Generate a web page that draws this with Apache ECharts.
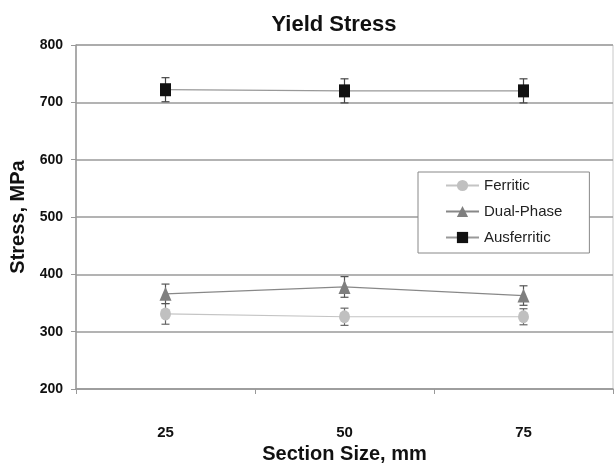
<!DOCTYPE html>
<html>
<head>
<meta charset="utf-8">
<script src="https://cdn.jsdelivr.net/npm/echarts@6/dist/echarts.min.js"></script>
<style>html,body{margin:0;padding:0;background:#fff;}#c{width:616px;height:472px;}</style>
</head>
<body>
<div id="c"></div>
<script>
const categories = ['25', '50', '75'];
const yTicks = [200, 300, 400, 500, 600, 700, 800];
const ferritic = [331, 326, 326];
const ferriticErr = [18, 15, 14];
const dualPhase = [366, 378, 363];
const dualPhaseErr = [17, 18, 17];
const ausferritic = [722, 720, 720];
const ausferriticErr = [21, 21, 21];

const sans = "'Liberation Sans', Arial, sans-serif";

function errData(vals, errs) {
  return vals.map((v, i) => [i, v - errs[i], v + errs[i]]);
}
function errSeries(vals, errs, color) {
  return {
    type: 'custom',
    z: 1,
    silent: true,
    encode: { x: 0, y: [1, 2] },
    data: errData(vals, errs),
    renderItem: function (params, api) {
      const lo = api.coord([api.value(0), api.value(1)]);
      const hi = api.coord([api.value(0), api.value(2)]);
      const hw = 4;
      const st = { stroke: color, lineWidth: 1.2 };
      return {
        type: 'group',
        children: [
          { type: 'line', shape: { x1: lo[0], y1: lo[1], x2: hi[0], y2: hi[1] }, style: st },
          { type: 'line', shape: { x1: lo[0] - hw, y1: lo[1], x2: lo[0] + hw, y2: lo[1] }, style: st },
          { type: 'line', shape: { x1: hi[0] - hw, y1: hi[1], x2: hi[0] + hw, y2: hi[1] }, style: st }
        ]
      };
    }
  };
}

const chart = echarts.init(document.getElementById('c'));
chart.setOption({
  animation: false,
  backgroundColor: '#fff',
  title: {
    text: 'Yield Stress',
    left: 329,
    textAlign: 'center',
    top: 9,
    textStyle: { fontFamily: sans, fontWeight: 'bold', fontSize: 22, color: '#111' }
  },
  grid: { left: 76, right: 3, top: 45, bottom: 83, outerBoundsMode: 'none', containLabel: false, show: true, borderColor: '#c8c8c8', borderWidth: 1 },
  legend: {
    data: ['Ferritic', 'Dual-Phase', 'Ausferritic'],
    orient: 'vertical',
    left: 418,
    top: 172,
    padding: [6, 27, 8, 27],
    itemWidth: 33,
    itemHeight: 14,
    itemGap: 11,
    backgroundColor: '#fff',
    borderColor: '#888',
    borderWidth: 1,
    textStyle: { fontFamily: sans, fontSize: 15, color: '#222' }
  },
  xAxis: {
    type: 'category',
    data: categories,
    boundaryGap: true,
    name: 'Section Size, mm',
    nameLocation: 'middle',
    nameGap: 53,
    nameTextStyle: { fontFamily: sans, fontWeight: 'bold', fontSize: 20, color: '#111' },
    axisLine: { lineStyle: { color: '#999', width: 1.5 } },
    axisTick: { show: true, length: 5, lineStyle: { color: '#999' } },
    axisLabel: { margin: 36, fontFamily: sans, fontWeight: 'bold', fontSize: 15, color: '#111' },
    splitLine: { show: false }
  },
  yAxis: {
    type: 'value',
    min: yTicks[0],
    max: yTicks[yTicks.length - 1],
    interval: 100,
    name: 'Stress, MPa',
    nameLocation: 'middle',
    nameGap: 47,
    nameTextStyle: { fontFamily: sans, fontWeight: 'bold', fontSize: 20, color: '#111' },
    axisLine: { show: true, lineStyle: { color: '#999', width: 1.5 } },
    axisTick: { show: true, length: 5, lineStyle: { color: '#999' } },
    axisLabel: { margin: 13, fontFamily: sans, fontWeight: 'bold', fontSize: 14, color: '#111' },
    splitLine: { show: true, lineStyle: { color: '#9a9a9a', width: 1.5 } }
  },
  series: [
    errSeries(ferritic, ferriticErr, '#666'),
    errSeries(dualPhase, dualPhaseErr, '#555'),
    errSeries(ausferritic, ausferriticErr, '#444'),
    {
      name: 'Ferritic', type: 'line', z: 3, data: ferritic,
      symbol: 'circle', symbolSize: [11, 13],
      lineStyle: { color: '#c4c4c4', width: 1.2 },
      itemStyle: { color: '#c0c0c0' }
    },
    {
      name: 'Dual-Phase', type: 'line', z: 3, data: dualPhase,
      symbol: 'triangle', symbolSize: [12, 14],
      lineStyle: { color: '#888', width: 1.2 },
      itemStyle: { color: '#7f7f7f' }
    },
    {
      name: 'Ausferritic', type: 'line', z: 3, data: ausferritic,
      symbol: 'rect', symbolSize: [11, 13],
      lineStyle: { color: '#999', width: 1.2 },
      itemStyle: { color: '#111' }
    }
  ]
});
</script>
</body>
</html>
